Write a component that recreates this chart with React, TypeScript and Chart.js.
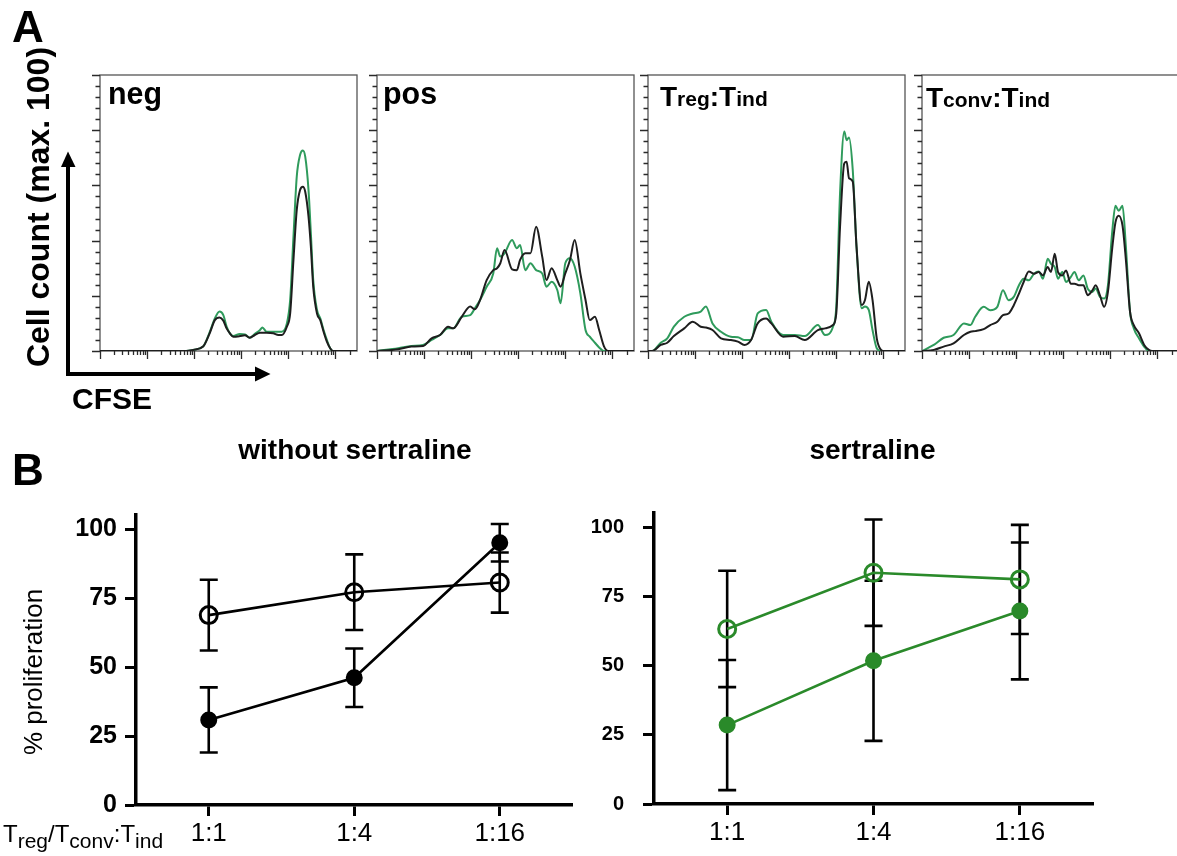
import React, { useEffect, useRef } from 'react';
import { Chart, registerables } from 'chart.js';

Chart.register(...registerables);

const FONT = "'Liberation Sans', Arial, Helvetica, sans-serif";

// ---------------- Panel A: CFSE histograms ----------------
// x values are log10(CFSE intensity); y values are cell count (max-normalised to 100)
const CFSE_MAX_LOG = 5.46;

const NEG_LOG_CFSE = [0, 1.83, 1.98, 2.19, 2.33, 2.44, 2.54, 2.62, 2.69, 2.76, 2.83, 2.97, 3.08, 3.18, 3.29, 3.40, 3.45, 3.54, 3.68, 3.79, 3.86, 3.97, 4.04, 4.11, 4.18, 4.25, 4.31, 4.36, 4.43, 4.48, 4.53, 4.61, 4.68, 4.75, 4.82, 4.89, 4.95, 5.46];
const NEG_BLACK = [0, 0, 0.4, 1.6, 6.4, 11.2, 12.1, 11.0, 8.2, 6.4, 5.2, 5.4, 5.7, 4.8, 5.8, 6.6, 6.6, 6.6, 6.4, 5.8, 5.8, 8.8, 13.6, 33.0, 51.1, 58.3, 59.5, 57.7, 48.7, 37.8, 23.3, 13.6, 11.2, 7.0, 3.4, 1.0, 0, 0];
const NEG_GREEN = [0, 0, 0.4, 1.6, 6.8, 11.8, 14.3, 13.0, 8.8, 6.4, 5.4, 6.2, 6.0, 4.8, 6.2, 7.6, 8.5, 7.0, 7.0, 7.0, 7.0, 10.0, 18.5, 41.4, 63.2, 71.0, 72.6, 70.4, 58.3, 42.6, 25.7, 14.9, 11.8, 7.6, 4.0, 1.0, 0, 0];

const POS_LOG_CFSE = [0, 0.45, 0.73, 0.98, 1.16, 1.34, 1.51, 1.62, 1.80, 1.98, 2.08, 2.19, 2.33, 2.47, 2.55, 2.62, 2.71, 2.87, 2.97, 3.04, 3.15, 3.26, 3.38, 3.51, 3.60, 3.71, 3.83, 3.90, 4.00, 4.10, 4.20, 4.32, 4.43, 4.52, 4.63, 4.72, 4.82, 4.91, 5.46];
const POS_BLACK = [0, 0.6, 1.6, 1.8, 4.6, 5.8, 8.8, 8.2, 12.4, 16.1, 15.1, 18.5, 25.7, 29.3, 30.0, 31.8, 36.6, 29.6, 29.3, 33.0, 35.4, 35.4, 45.0, 34.2, 25.7, 30.0, 25.7, 23.3, 28.1, 33.0, 40.2, 28.1, 18.5, 11.2, 12.4, 7.6, 1.8, 0, 0];
const POS_GREEN = [0, 1.0, 1.8, 2.2, 4.0, 5.8, 8.2, 8.2, 12.4, 13.0, 15.5, 18.5, 23.3, 28.1, 37.2, 34.2, 35.4, 40.2, 37.2, 38.4, 29.3, 31.8, 29.3, 28.1, 23.3, 25.1, 22.1, 17.3, 31.8, 33.6, 30.6, 20.9, 7.6, 5.2, 3.0, 1.3, 0, 0, 0];

const TREG_LOG_CFSE = [0, 0.09, 0.27, 0.41, 0.55, 0.77, 0.95, 1.12, 1.23, 1.37, 1.55, 1.76, 1.91, 2.05, 2.19, 2.33, 2.51, 2.62, 2.87, 3.12, 3.33, 3.61, 3.76, 3.93, 4.00, 4.08, 4.17, 4.22, 4.27, 4.35, 4.43, 4.54, 4.61, 4.69, 4.77, 4.86, 4.95, 5.00, 5.46];
const TREG_BLACK = [0, 0, 2.2, 3.0, 5.4, 8.2, 10.6, 8.8, 8.5, 7.6, 4.6, 4.0, 3.4, 2.2, 4.0, 10.0, 11.8, 10.0, 5.2, 5.4, 4.0, 7.6, 8.2, 9.4, 13.6, 45.0, 68.0, 68.6, 62.6, 61.4, 37.8, 16.7, 18.5, 25.1, 18.5, 4.6, 0.4, 0, 0];
const TREG_GREEN = [0, 0, 3.0, 4.6, 8.8, 12.4, 13.6, 14.3, 16.1, 10.0, 7.0, 5.2, 5.0, 4.0, 4.0, 13.6, 14.9, 10.6, 5.8, 5.8, 5.4, 9.4, 5.8, 8.8, 16.1, 57.1, 79.5, 76.4, 77.4, 65.6, 37.8, 15.5, 16.1, 14.9, 7.6, 1.0, 0, 0, 0];

const TCONV_LOG_CFSE = [0, 0.25, 0.46, 0.67, 0.89, 1.03, 1.13, 1.31, 1.45, 1.60, 1.72, 1.84, 1.95, 2.06, 2.16, 2.27, 2.38, 2.48, 2.57, 2.67, 2.74, 2.82, 2.89, 2.98, 3.06, 3.16, 3.24, 3.33, 3.43, 3.52, 3.62, 3.69, 3.78, 3.87, 3.95, 4.04, 4.11, 4.18, 4.26, 4.33, 4.42, 4.50, 4.61, 4.72, 4.82, 4.89, 5.46];
const TCONV_BLACK = [0, 0.4, 1.6, 2.8, 5.8, 7.0, 7.2, 7.9, 9.4, 10.6, 13.0, 13.6, 16.6, 20.8, 25.0, 28.8, 28.0, 28.6, 27.4, 30.4, 28.6, 35.2, 28.6, 27.4, 29.2, 24.4, 24.4, 23.8, 23.8, 20.2, 22.0, 23.8, 20.2, 16.0, 21.4, 37.0, 46.6, 49.0, 45.4, 33.4, 14.2, 9.4, 6.4, 2.2, 0.4, 0, 0];
const TCONV_GREEN = [0, 2.2, 4.8, 5.8, 10.0, 9.4, 12.4, 16.0, 14.8, 16.0, 22.0, 18.4, 19.6, 23.8, 26.2, 25.6, 28.0, 28.8, 26.2, 33.4, 31.6, 30.4, 26.2, 28.6, 25.0, 26.8, 28.6, 25.6, 27.4, 22.6, 21.4, 22.6, 19.6, 19.0, 23.8, 43.0, 52.6, 50.8, 52.6, 38.2, 14.2, 8.2, 4.6, 1.6, 0, 0, 0];

const HIST_Y_MAJOR = [0, 20, 40, 60, 80, 100];
const HIST_Y_MINOR_STEP = 4;
const HIST_X_DECADES = [1, 10, 100, 1000, 10000, 100000];
const HIST_X_MINOR_MULT = [2, 3, 4, 5, 6, 7, 8, 9];

// ---------------- Panel B: % proliferation ----------------
const RATIOS = ['1:1', '1:4', '1:16'];
const PROLIF_TICKS = [0, 25, 50, 75, 100];

const NOSERT_OPEN = [68.8, 77.1, 80.6];
const NOSERT_OPEN_SD = [12.8, 13.7, 10.9];
const NOSERT_FILLED = [30.8, 46.1, 95.0];
const NOSERT_FILLED_SD = [11.8, 10.6, 6.8];

const SERT_OPEN = [63.2, 83.5, 81.1];
const SERT_OPEN_SD = [21.0, 19.2, 19.7];
const SERT_FILLED = [28.5, 51.7, 69.7];
const SERT_FILLED_SD = [23.5, 28.9, 24.7];

// ---------------- layout ----------------
const HIST_LEFTS = [100, 377, 648, 922];
const HIST_TOP = 75;
const HIST_W = 257;
const HIST_H = 276;
const HP = { left: 14, top: 6, right: 6, bottom: 12 };

const HIST_BLACK = '#1e1e1e';
const HIST_GREEN = '#2f9b5c';
const B_GREEN = '#2a8a2a';

const histFramePlugin = {
  id: 'histFrame',
  beforeDatasetsDraw(chart: any) {
    const { ctx, chartArea: a, scales } = chart;
    const x = scales.x;
    const y = scales.y;
    ctx.save();
    ctx.strokeStyle = '#555';
    ctx.lineWidth = 1.3;
    ctx.strokeRect(a.left, a.top, a.right - a.left, a.bottom - a.top);
    ctx.strokeStyle = '#2a2a2a';
    ctx.lineWidth = 1.3;
    ctx.beginPath();
    for (let v = 0; v <= 100; v += HIST_Y_MINOR_STEP) {
      const py = Math.round(y.getPixelForValue(v)) + 0.5;
      const len = HIST_Y_MAJOR.includes(v) ? 8 : 4.5;
      ctx.moveTo(a.left - len, py);
      ctx.lineTo(a.left, py);
    }
    const xmax = x.max;
    HIST_X_DECADES.forEach((d) => {
      [1, ...HIST_X_MINOR_MULT].forEach((m) => {
        const val = d * m;
        if (val > xmax) return;
        const px = Math.round(x.getPixelForValue(val)) + 0.5;
        const len = m === 1 ? 8 : 4;
        ctx.moveTo(px, a.bottom);
        ctx.lineTo(px, a.bottom + len);
      });
    });
    ctx.stroke();
    ctx.restore();
  },
};

function Histogram({ left, logX, black, green }: { left: number; logX: number[]; black: number[]; green: number[] }) {
  const ref = useRef<HTMLCanvasElement>(null);
  useEffect(() => {
    const toPts = (ys: number[]) => ys.map((yv, i) => ({ x: Math.pow(10, logX[i]), y: yv }));
    const common = {
      borderWidth: 2,
      pointRadius: 0,
      cubicInterpolationMode: 'monotone' as const,
      fill: false,
    };
    const chart = new Chart(ref.current as HTMLCanvasElement, {
      type: 'line',
      data: {
        datasets: [
          { ...common, data: toPts(black), borderColor: HIST_BLACK },
          { ...common, data: toPts(green), borderColor: HIST_GREEN },
        ],
      },
      options: {
        animation: false,
        responsive: false,
        devicePixelRatio: 1,
        events: [],
        layout: { padding: HP },
        plugins: { legend: { display: false }, tooltip: { enabled: false } },
        scales: {
          x: { type: 'logarithmic', min: 1, max: Math.pow(10, CFSE_MAX_LOG), display: false },
          y: { type: 'linear', min: 0, max: 100, display: false },
        },
      } as any,
      plugins: [histFramePlugin],
    });
    return () => chart.destroy();
  }, []);
  return (
    <canvas
      ref={ref}
      width={HIST_W + HP.left + HP.right}
      height={HIST_H + HP.top + HP.bottom}
      style={{ position: 'absolute', left: left - HP.left, top: HIST_TOP - HP.top }}
    />
  );
}

const errorBarPlugin = {
  id: 'errorBars',
  beforeDatasetsDraw(chart: any) {
    const { ctx, scales } = chart;
    const x = scales.x;
    const y = scales.y;
    ctx.save();
    ctx.strokeStyle = '#000';
    ctx.lineWidth = 2.6;
    chart.data.datasets.forEach((ds: any) => {
      const sd: number[] = ds.sd || [];
      ds.data.forEach((v: number, i: number) => {
        const px = x.getPixelForValue(i);
        const yt = y.getPixelForValue(v + sd[i]);
        const yb = y.getPixelForValue(v - sd[i]);
        ctx.beginPath();
        ctx.moveTo(px, yt);
        ctx.lineTo(px, yb);
        ctx.moveTo(px - 9, yt);
        ctx.lineTo(px + 9, yt);
        ctx.moveTo(px - 9, yb);
        ctx.lineTo(px + 9, yb);
        ctx.stroke();
      });
    });
    ctx.restore();
  },
};

type ProlifProps = {
  left: number;
  top: number;
  width: number;
  height: number;
  yAxisW: number;
  xAxisH: number;
  padTop: number;
  padRight: number;
  yFont: number;
  yPad: number;
  color: string;
  open: number[];
  openSd: number[];
  filled: number[];
  filledSd: number[];
};

function ProlifChart(p: ProlifProps) {
  const ref = useRef<HTMLCanvasElement>(null);
  useEffect(() => {
    const chart = new Chart(ref.current as HTMLCanvasElement, {
      type: 'line',
      data: {
        labels: RATIOS,
        datasets: [
          {
            data: p.open,
            sd: p.openSd,
            borderColor: p.color,
            borderWidth: 2.6,
            pointRadius: 8.5,
            pointBorderWidth: 3,
            pointBorderColor: p.color,
            pointBackgroundColor: 'rgba(0,0,0,0)',
            tension: 0,
          },
          {
            data: p.filled,
            sd: p.filledSd,
            borderColor: p.color,
            borderWidth: 2.6,
            pointRadius: 7.5,
            pointBorderWidth: 2,
            pointBorderColor: p.color,
            pointBackgroundColor: p.color,
            tension: 0,
          },
        ] as any,
      },
      options: {
        animation: false,
        responsive: false,
        devicePixelRatio: 1,
        events: [],
        layout: { padding: { top: p.padTop, right: p.padRight, left: 0, bottom: 0 } },
        plugins: { legend: { display: false }, tooltip: { enabled: false } },
        scales: {
          x: {
            type: 'category',
            offset: true,
            grid: { display: true, drawOnChartArea: false, drawTicks: true, tickLength: 11, tickWidth: 3, tickColor: '#000', offset: false },
            border: { display: true, color: '#000', width: 3.5 },
            ticks: { color: '#000', font: { family: FONT, size: 26 }, padding: 2, maxRotation: 0, autoSkip: false },
            afterFit: (s: any) => {
              s.height = p.xAxisH;
            },
          },
          y: {
            type: 'linear',
            min: 0,
            max: 105,
            grid: { display: true, drawOnChartArea: false, drawTicks: true, tickLength: 11, tickWidth: 3, tickColor: '#000' },
            border: { display: true, color: '#000', width: 3.5 },
            ticks: { color: '#000', font: { family: FONT, size: p.yFont, weight: 'bold' }, padding: p.yPad },
            afterBuildTicks: (s: any) => {
              s.ticks = PROLIF_TICKS.map((v) => ({ value: v }));
            },
            afterFit: (s: any) => {
              s.width = p.yAxisW;
            },
          },
        },
      } as any,
      plugins: [errorBarPlugin],
    });
    return () => chart.destroy();
  }, []);
  return <canvas ref={ref} width={p.width} height={p.height} style={{ position: 'absolute', left: p.left, top: p.top }} />;
}

// ---------------- text helpers ----------------
function Txt({ x, y, size, bold = false, center = false, sx = 1, children }: any) {
  return (
    <div
      style={{
        position: 'absolute',
        left: x,
        top: y - 0.8465 * size,
        display: 'flex',
        alignItems: 'baseline',
        whiteSpace: 'nowrap',
        lineHeight: 1,
        fontFamily: FONT,
        fontSize: size,
        fontWeight: bold ? 700 : 400,
        color: '#000',
        transform: `${center ? 'translateX(-50%) ' : ''}scaleX(${sx})`,
        transformOrigin: center ? '50% 0' : '0 0',
      }}
    >
      {children}
    </div>
  );
}

function VTxt({ bx, cy, size, bold = false, children }: any) {
  return (
    <div
      style={{
        position: 'absolute',
        left: bx - 0.3465 * size,
        top: cy,
        transform: 'translate(-50%, -50%) rotate(-90deg)',
        whiteSpace: 'nowrap',
        lineHeight: 1,
        fontFamily: FONT,
        fontSize: size,
        fontWeight: bold ? 700 : 400,
        color: '#000',
      }}
    >
      {children}
    </div>
  );
}

const S = ({ size, dy = 0, children }: any) => (
  <span style={{ fontSize: size, position: 'relative', top: dy }}>{children}</span>
);

export default function App() {
  useEffect(() => {
    document.body.style.overflow = 'hidden';
  }, []);
  return (
    <div style={{ position: 'absolute', left: 0, top: 0, width: 1177, height: 856, overflow: 'hidden', background: '#fff' }}>
      <Histogram left={HIST_LEFTS[0]} logX={NEG_LOG_CFSE} black={NEG_BLACK} green={NEG_GREEN} />
      <Histogram left={HIST_LEFTS[1]} logX={POS_LOG_CFSE} black={POS_BLACK} green={POS_GREEN} />
      <Histogram left={HIST_LEFTS[2]} logX={TREG_LOG_CFSE} black={TREG_BLACK} green={TREG_GREEN} />
      <Histogram left={HIST_LEFTS[3]} logX={TCONV_LOG_CFSE} black={TCONV_BLACK} green={TCONV_GREEN} />

      <ProlifChart
        left={60}
        top={470}
        width={540}
        height={386}
        yAxisW={76}
        xAxisH={51}
        padTop={45.2}
        padRight={27.5}
        yFont={25}
        yPad={8}
        color="#000"
        open={NOSERT_OPEN}
        openSd={NOSERT_OPEN_SD}
        filled={NOSERT_FILLED}
        filledSd={NOSERT_FILLED_SD}
      />
      <ProlifChart
        left={580}
        top={470}
        width={540}
        height={386}
        yAxisW={74}
        xAxisH={52}
        padTop={43.2}
        padRight={27}
        yFont={20}
        yPad={19}
        color={B_GREEN}
        open={SERT_OPEN}
        openSd={SERT_OPEN_SD}
        filled={SERT_FILLED}
        filledSd={SERT_FILLED_SD}
      />

      <svg width={1177} height={856} style={{ position: 'absolute', left: 0, top: 0, pointerEvents: 'none' }}>
        <line x1={68} y1={376} x2={68} y2={165} stroke="#000" strokeWidth={4} />
        <polygon points="61,167 75.5,167 68,151.5" fill="#000" />
        <line x1={66} y1={374} x2={257} y2={374} stroke="#000" strokeWidth={4} />
        <polygon points="255,366.5 255,381.5 270.5,374" fill="#000" />
      </svg>

      <Txt x={12} y={42} size={44} bold>A</Txt>
      <VTxt bx={49} cy={206.5} size={32} bold>Cell count (max. 100)</VTxt>
      <Txt x={72} y={409} size={30} bold>CFSE</Txt>

      <Txt x={108} y={104} size={32} bold sx={0.95}>neg</Txt>
      <Txt x={383} y={104} size={32} bold sx={0.95}>pos</Txt>
      <Txt x={660} y={107} size={28} bold>
        <S size={28}>T</S>
        <S size={21}>reg</S>
        <S size={28}>:T</S>
        <S size={21}>ind</S>
      </Txt>
      <Txt x={926} y={108} size={28} bold>
        <S size={28}>T</S>
        <S size={21}>conv</S>
        <S size={28}>:T</S>
        <S size={21}>ind</S>
      </Txt>

      <Txt x={12} y={485} size={44} bold>B</Txt>
      <Txt x={355} y={460} size={28} bold center>without sertraline</Txt>
      <Txt x={872.5} y={460} size={28} bold center>sertraline</Txt>

      <VTxt bx={42} cy={672} size={26}>% proliferation</VTxt>
      <Txt x={3} y={842} size={24}>
        <S size={24}>T</S>
        <S size={21} dy={6}>reg</S>
        <S size={24}>/T</S>
        <S size={21} dy={6}>conv</S>
        <S size={24}>:T</S>
        <S size={21} dy={6}>ind</S>
      </Txt>
    </div>
  );
}
